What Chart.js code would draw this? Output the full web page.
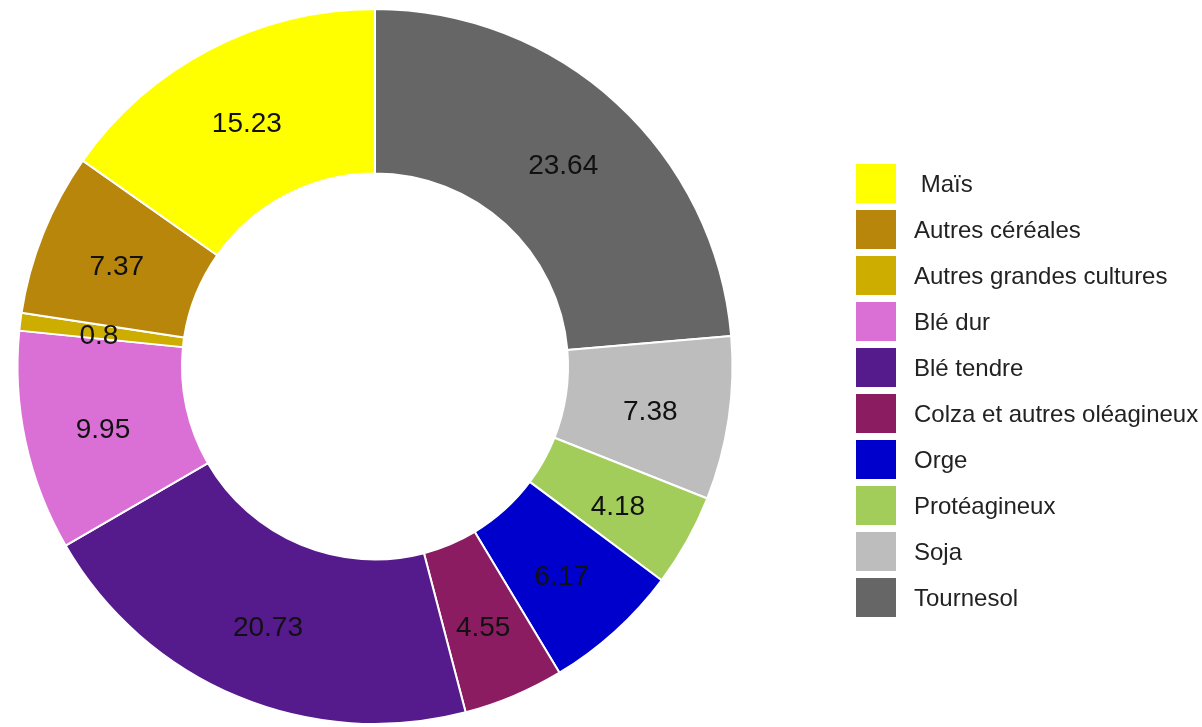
<!DOCTYPE html>
<html>
<head>
<meta charset="utf-8">
<script src="https://cdn.jsdelivr.net/npm/chart.js@4/dist/chart.umd.min.js"></script>
<style>
  html, body { margin: 0; padding: 0; background: #ffffff; }
  #wrap { width: 1202px; height: 727px; position: relative; }
</style>
</head>
<body>
<div id="wrap"><canvas id="c" width="1202" height="727"></canvas></div>
<script>
// Categories in drawing order (clockwise from 12 o'clock)
const categories = [
  "Tournesol", "Soja", "Protéagineux", "Orge", "Colza et autres oléagineux",
  "Blé tendre", "Blé dur", "Autres grandes cultures", "Autres céréales", " Maïs"
];
const values = [23.64, 7.38, 4.18, 6.17, 4.55, 20.73, 9.95, 0.8, 7.37, 15.23];
const colors = [
  "#666666", "#BDBDBD", "#A2CD5A", "#0000CD", "#8B1C62",
  "#551A8B", "#DA70D6", "#CDAD00", "#B8860B", "#FFFF00"
];

const FONT = "'Liberation Sans', Arial, Helvetica, sans-serif";

const valueLabels = {
  id: 'valueLabels',
  afterDatasetsDraw(chart) {
    const ctx = chart.ctx;
    const meta = chart.getDatasetMeta(0);
    ctx.save();
    ctx.font = "28px " + FONT;
    ctx.fillStyle = "#111111";
    ctx.textAlign = "center";
    ctx.textBaseline = "middle";
    meta.data.forEach((arc, i) => {
      const a = arc.getProps(['x', 'y', 'startAngle', 'endAngle', 'innerRadius', 'outerRadius'], true);
      const mid = (a.startAngle + a.endAngle) / 2;
      const r = (a.innerRadius + a.outerRadius) / 2 + 3;
      const px = a.x + Math.cos(mid) * r;
      const py = a.y + Math.sin(mid) * r + 5;
      ctx.fillText(String(chart.data.datasets[0].data[i]), px, py);
    });
    ctx.restore();
  }
};

const sideLegend = {
  id: 'sideLegend',
  afterDraw(chart) {
    const ctx = chart.ctx;
    const labels = chart.data.labels;
    const bg = chart.data.datasets[0].backgroundColor;
    const boxX = 856, boxW = 40, boxH = 39, top = 164, stride = 46, textX = 914;
    ctx.save();
    ctx.font = "24px " + FONT;
    ctx.textBaseline = "middle";
    ctx.textAlign = "left";
    const n = labels.length;
    for (let k = 0; k < n; k++) {
      const i = n - 1 - k; // legend lists in reverse drawing order
      const y = top + k * stride;
      ctx.fillStyle = bg[i];
      ctx.fillRect(boxX, y, boxW, boxH);
      ctx.fillStyle = "#222222";
      ctx.fillText(labels[i], textX, y + boxH / 2 + 2);
    }
    ctx.restore();
  }
};

new Chart(document.getElementById('c'), {
  type: 'doughnut',
  data: {
    labels: categories,
    datasets: [{
      data: values,
      backgroundColor: colors,
      borderColor: "#ffffff",
      borderWidth: 2
    }]
  },
  options: {
    responsive: false,
    animation: false,
    cutout: '54%',
    layout: { padding: { left: 14, right: 466, top: 8, bottom: 2 } },
    plugins: {
      legend: { display: false },
      tooltip: { enabled: false }
    }
  },
  plugins: [valueLabels, sideLegend]
});
</script>
</body>
</html>
